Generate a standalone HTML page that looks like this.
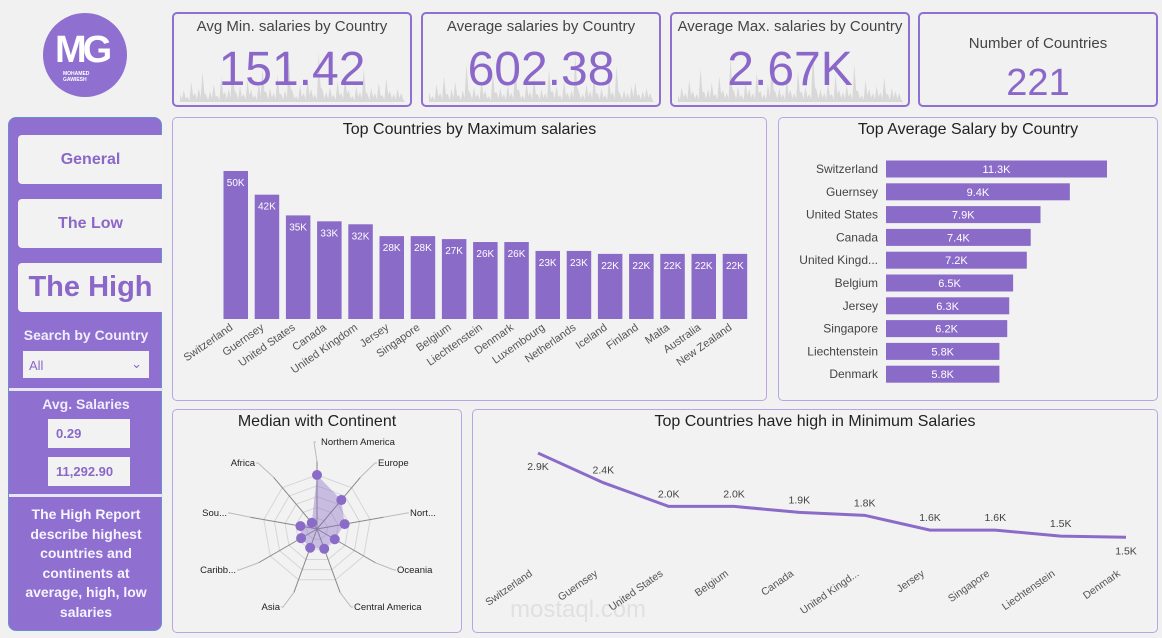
<!DOCTYPE html>
<html><head><meta charset="utf-8">
<style>
body{margin:0;width:1162px;height:638px;background:#f1f1f1;font-family:"Liberation Sans",sans-serif;position:relative;overflow:hidden}
.abs{position:absolute;box-sizing:border-box}
.card{border:2px solid #8f6fd0;border-radius:5px;background:#f1f1f1}
.panel{border:1px solid #b9a5e3;border-radius:5px;background:#f2f2f2}
.kt{position:absolute;left:0;right:0;top:4px;text-align:center;font-size:15px;color:#444}
.kv{position:absolute;left:0;right:0;top:28px;text-align:center;font-size:48px;color:#8a67c8}
.btn{background:#f2f2f2;border-radius:4px 0 0 4px;text-align:center;font-weight:bold;color:#8a67c8}
.ptitle{position:absolute;left:0;right:0;top:3px;text-align:center;font-size:16px;color:#222}
</style></head><body>
<div class="abs" style="left:43px;top:13px;width:84px;height:84px;border-radius:50%;background:#8f6fcf">
 <div class="abs" style="left:12px;top:16px;font-size:38px;font-weight:bold;color:#fff;letter-spacing:-4px">MG</div>
 <div class="abs" style="left:20px;top:58px;font-size:5px;font-weight:bold;color:#fff;line-height:6px">MOHAMED<br>GAWIESH</div>
</div>

<div class="abs card" style="left:172px;top:12px;width:240px;height:95px">
 <svg class="abs" style="left:6px;top:30px" width="225" height="58"><path id="sp1" fill="#d8d8d8"/></svg>
 <div class="kt">Avg Min. salaries by Country</div><div class="kv">151.42</div></div>
<div class="abs card" style="left:421px;top:12px;width:240px;height:95px">
 <svg class="abs" style="left:6px;top:30px" width="225" height="58"><path id="sp2" fill="#d8d8d8"/></svg>
 <div class="kt">Average salaries by Country</div><div class="kv">602.38</div></div>
<div class="abs card" style="left:670px;top:12px;width:240px;height:95px">
 <svg class="abs" style="left:6px;top:30px" width="225" height="58"><path id="sp3" fill="#d8d8d8"/></svg>
 <div class="kt">Average Max. salaries by Country</div><div class="kv">2.67K</div></div>
<div class="abs card" style="left:918px;top:12px;width:240px;height:95px">
 <div class="kt" style="top:21px">Number of Countries</div><div class="kv" style="top:48px;font-size:38px">221</div></div>

<div class="abs" style="left:8px;top:117px;width:154px;height:514px;background:#8f6fcf;border-radius:8px;border:1px solid #6a8fd0">
 <div class="abs btn" style="left:9px;top:17px;width:145px;height:49px;line-height:49px;font-size:16px">General</div>
 <div class="abs btn" style="left:9px;top:81px;width:145px;height:49px;line-height:49px;font-size:16px">The Low</div>
 <div class="abs btn" style="left:9px;top:145px;width:145px;height:49px;line-height:49px;font-size:29px">The High</div>
 <div class="abs" style="left:0;width:154px;top:209px;text-align:center;color:#f0eefc;font-weight:bold;font-size:14px">Search by Country</div>
 <div class="abs" style="left:14px;top:233px;width:126px;height:27px;background:#f2f2f2;color:#8a67c8;font-size:13px;line-height:29px;padding-left:6px">All<span style="position:absolute;right:7px;top:-2px;color:#8a67c8">&#8964;</span></div>
 <div class="abs" style="left:0;top:270px;width:154px;height:3px;background:#e6e6f4"></div>
 <div class="abs" style="left:0;width:154px;top:278px;text-align:center;color:#f0eefc;font-weight:bold;font-size:14px">Avg. Salaries</div>
 <div class="abs" style="left:39px;top:301px;width:82px;height:29px;background:#f2f2f2;color:#8a67c8;font-weight:bold;font-size:13px;line-height:29px;padding-left:8px">0.29</div>
 <div class="abs" style="left:39px;top:339px;width:82px;height:29px;background:#f2f2f2;color:#8a67c8;font-weight:bold;font-size:13px;line-height:29px;padding-left:8px">11,292.90</div>
 <div class="abs" style="left:0;top:376px;width:154px;height:3px;background:#e6e6f4"></div>
 <div class="abs" style="left:6px;width:142px;top:387px;text-align:center;color:#f6f4ff;font-weight:bold;font-size:14px;line-height:19.6px">The High Report describe highest countries and continents at average, high, low salaries</div>
</div>

<div class="abs panel" style="left:172px;top:117px;width:595px;height:284px"><div class="ptitle">Top Countries by Maximum salaries</div></div>
<div class="abs panel" style="left:778px;top:117px;width:380px;height:284px"><div class="ptitle">Top Average Salary by Country</div></div>
<div class="abs panel" style="left:172px;top:409px;width:290px;height:224px"><div class="ptitle">Median with Continent</div></div>
<div class="abs panel" style="left:472px;top:409px;width:686px;height:224px"><div class="ptitle">Top Countries have high in Minimum Salaries</div></div>
<div class="abs" style="left:510px;top:596px;font-size:24px;color:#e0e0e0">mostaql.com</div>

<svg id="chart" class="abs" style="left:0;top:0" width="1162" height="638"></svg>

<script>
const barCountries=["Switzerland","Guernsey","United States","Canada","United Kingdom","Jersey","Singapore","Belgium","Liechtenstein","Denmark","Luxembourg","Netherlands","Iceland","Finland","Malta","Australia","New Zealand"];
const barValues=[50,42,35,33,32,28,28,27,26,26,23,23,22,22,22,22,22];
const hCountries=["Switzerland","Guernsey","United States","Canada","United Kingd...","Belgium","Jersey","Singapore","Liechtenstein","Denmark"];
const hValues=[11.3,9.4,7.9,7.4,7.2,6.5,6.3,6.2,5.8,5.8];
const radarLabels=["Northern America","Europe","Nort...","Oceania","Central America","Asia","Caribb...","Sou...","Africa"];
const radarValues=[100,70,52,38,39,37,34,31,15];
const lineCountries=["Switzerland","Guernsey","United States","Belgium","Canada","United Kingd...","Jersey","Singapore","Liechtenstein","Denmark"];
const lineValues=[2900,2400,2000,2000,1900,1850,1600,1600,1500,1480];
const lineLabels=["2.9K","2.4K","2.0K","2.0K","1.9K","1.8K","1.6K","1.6K","1.5K","1.5K"];
const spark1=[8,12,5,20,9,14,30,7,11,18,6,25,10,13,40,9,16,8,22,12,7,19,35,10,14,9,27,8,12,44,11,6,17,9,23,13,8,50,12,10,15,7,21,9,28,12,6,16,10,34,8,14,9,19,7,24,11,8,13,9];
const spark2=[10,6,18,9,26,8,13,20,7,12,38,9,15,8,22,11,6,30,10,14,8,17,9,42,12,7,19,10,25,8,13,9,33,11,16,7,21,9,12,48,10,8,18,11,27,9,14,7,23,10,36,8,12,9,16,20,8,11,14,9];
const spark3=[7,15,9,22,11,8,34,10,13,19,8,26,12,9,45,10,16,7,21,13,9,29,11,8,18,40,10,14,8,24,12,9,31,10,15,8,52,11,13,9,20,8,27,12,10,17,9,38,11,7,22,13,9,16,10,25,8,14,11,9];
const svg=document.getElementById('chart');
const NS="http://www.w3.org/2000/svg";
function mk(t,a,p){const e=document.createElementNS(NS,t);for(const k in a)e.setAttribute(k,a[k]);(p||svg).appendChild(e);return e;}
function txt(x,y,s,a,p){const e=mk('text',Object.assign({x:x,y:y},a),p);e.textContent=s;return e;}
[[spark1,'sp1'],[spark2,'sp2'],[spark3,'sp3']].forEach(([d,id])=>{
 const w=225/d.length;let p="M0,58";d.forEach((v,i)=>{p+=` L${i*w},${58-v} L${(i+0.5)*w},${58-v*0.3}`;});p+=" L225,58 Z";
 document.getElementById(id).setAttribute('d',p);});
const bx=i=>223.5+i*31.2, by=v=>319-v*(148/50);
barValues.forEach((v,i)=>{
 const r=mk('rect',{x:bx(i),y:by(v),width:24.5,height:319-by(v),fill:'#8b6bc8'});
 
 
 txt(bx(i)+12.2,by(v)+15,v+'K',{'text-anchor':'middle','font-size':10,fill:'#fff'});
 const t=txt(bx(i)+10,329,barCountries[i],{'text-anchor':'end','font-size':11,fill:'#555',transform:`rotate(-35 ${bx(i)+10} 329)`});
 
 
});
const hy=i=>160.5+i*22.8, hw=v=>v*(221/11.3);
hValues.forEach((v,i)=>{
 const r=mk('rect',{x:886,y:hy(i),width:hw(v),height:17,fill:'#8b6bc8'});
 
 
 txt(886+hw(v)/2,hy(i)+12.5,v.toFixed(1)+'K',{'text-anchor':'middle','font-size':11,fill:'#fff'});
 const t=txt(878,hy(i)+12.5,hCountries[i],{'text-anchor':'end','font-size':12,fill:'#444'});
 
 
});
const cx=317,cy=529,R=54,n=radarLabels.length;
const ang=i=>-Math.PI/2+i*2*Math.PI/n;
for(let k=1;k<=5;k++){let p=[];for(let i=0;i<n;i++)p.push((cx+Math.cos(ang(i))*R*k/5)+','+(cy+Math.sin(ang(i))*R*k/5));mk('polygon',{points:p.join(' '),fill:'none',stroke:'#d6d6d6','stroke-width':1});}
const lblPos=[[317,445,'start',4],[378,466,'start',0],[410,516,'start',0],[397,573,'start',0],[354,610,'start',0],[280,610,'end',0],[236,573,'end',0],[227,516,'end',0],[255,466,'end',0]];
for(let i=0;i<n;i++){
 const ex=cx+Math.cos(ang(i))*R*1.25, ey=cy+Math.sin(ang(i))*R*1.25;
 mk('line',{x1:cx,y1:cy,x2:ex,y2:ey,stroke:'#888','stroke-width':1});
 const lp=lblPos[i];
 mk('polyline',{points:`${ex},${ey} ${lp[0]+(lp[2]=='start'?-3:3)},${lp[1]-3} ${lp[0]+(lp[2]=='start'?-1:1)},${lp[1]-3}`,fill:'none',stroke:'#bbb'});
 txt(lp[0]+lp[3],lp[1],radarLabels[i],{'text-anchor':lp[2],'font-size':9.5,fill:'#222'});
}
const rp=radarValues.map((v,i)=>[cx+Math.cos(ang(i))*R*v/100,cy+Math.sin(ang(i))*R*v/100]);
mk('polygon',{points:rp.map(p=>p.join(',')).join(' '),fill:'#8b6bc8','fill-opacity':0.4,stroke:'none'});
rp.forEach(p=>{const c=mk('circle',{cx:p[0],cy:p[1],r:5,fill:'#8b6bc8'});
 
 });
const lx=i=>538+i*(588/9), ly=v=>625-v*(83/1400);
const pl=mk('polyline',{points:lineValues.map((v,i)=>lx(i)+','+ly(v)).join(' '),fill:'none',stroke:'#8b6bc8','stroke-width':3});


lineValues.forEach((v,i)=>{
 const last=i==lineValues.length-1;
 txt(lx(i),last?ly(v)+17:ly(v)-9+(i==0?26:0),lineLabels[i],{'text-anchor':'middle','font-size':10.5,fill:'#444'});
 const t=txt(lx(i)-5,575,lineCountries[i],{'text-anchor':'end','font-size':10.5,fill:'#555',transform:`rotate(-35 ${lx(i)-5} 575)`});
 
 
});
</script>
</body></html>
